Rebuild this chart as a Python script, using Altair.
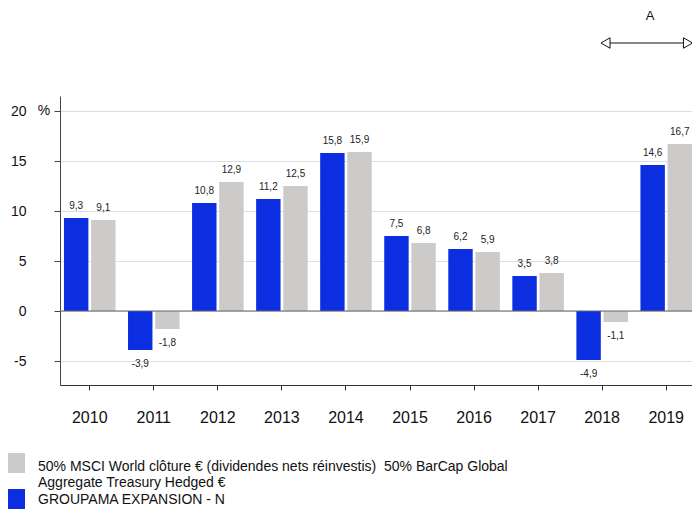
import altair as alt
import pandas as pd

years = ["2010", "2011", "2012", "2013", "2014", "2015", "2016", "2017", "2018", "2019"]
fund_values = [9.3, -3.9, 10.8, 11.2, 15.8, 7.5, 6.2, 3.5, -4.9, 14.6]
bench_values = [9.1, -1.8, 12.9, 12.5, 15.9, 6.8, 5.9, 3.8, -1.1, 16.7]
fund_name = "GROUPAMA EXPANSION - N"
bench_name = "50% MSCI World clôture € (dividendes nets réinvestis)  50% BarCap Global Aggregate Treasury Hedged €"
bench_lines = ["50% MSCI World clôture € (dividendes nets réinvestis)\u00a0 50% BarCap Global",
               "Aggregate Treasury Hedged €"]
y_ticks = [-5, 0, 5, 10, 15, 20]
blue = "#0b2ee0"
grey = "#cdcaca"
FONT = "Liberation Sans, Arial"

rows = []
for yr, f, b in zip(years, fund_values, bench_values):
    rows.append({"year": yr, "series": fund_name, "value": f})
    rows.append({"year": yr, "series": bench_name, "value": b})
df = pd.DataFrame(rows)

xenc = alt.X("year:N", sort=years,
             scale=alt.Scale(paddingInner=0.195, paddingOuter=0.031, align=1),
             axis=alt.Axis(title=None, labelAngle=0, labelFont=FONT, labelFontSize=16,
                           labelColor="#111", labelPadding=19, tickSize=5,
                           tickColor="#333", domainColor="#333", grid=False))
xoff = alt.XOffset("series:N", sort=[fund_name, bench_name],
                   scale=alt.Scale(paddingInner=0.1))
yscale = alt.Scale(domain=[-7.4, 21.5], nice=False, zero=False)
cscale = alt.Scale(domain=[bench_name, fund_name], range=[grey, blue])

base = alt.Chart(df)

bars = base.mark_bar().encode(
    x=xenc,
    xOffset=xoff,
    y=alt.Y("value:Q", scale=yscale,
            axis=alt.Axis(title=None, values=y_ticks, labelFont=FONT, labelFontSize=14,
                          labelColor="#111", labelPadding=28, tickSize=6,
                          labelExpr="'' + datum.value",
                          tickColor="#444", domainColor="#444",
                          grid=True, gridColor="#dddddd")),
    color=alt.Color("series:N", scale=cscale, legend=None),
)

lbl = base.transform_calculate(
    lbl="replace(replace(format(datum.value, '.1f'), '.', ','), '\u2212', '-')")

pos_labels = lbl.transform_filter("datum.value >= 0").mark_text(
    font=FONT, fontSize=10, color="#222", baseline="alphabetic", dy=-9
).encode(x=xenc, xOffset=xoff, y=alt.Y("value:Q", scale=yscale), text="lbl:N")

neg_labels = lbl.transform_filter("datum.value < 0").mark_text(
    font=FONT, fontSize=10, color="#222", baseline="alphabetic", dy=16.5
).encode(x=xenc, xOffset=xoff, y=alt.Y("value:Q", scale=yscale), text="lbl:N")

zero = alt.Chart(pd.DataFrame({"z": [0]})).mark_rule(color="#666", strokeWidth=1).encode(
    y=alt.Y("z:Q", scale=yscale))

pct = alt.Chart(pd.DataFrame({"v": [20]})).mark_text(
    text="%", font=FONT, fontSize=14, color="#111", align="center", baseline="middle"
).encode(x=alt.value(-16), y=alt.Y("v:Q", scale=yscale))

# decorative "A" with double arrow at top right
a_text = alt.Chart(pd.DataFrame({"t": ["A"]})).mark_text(
    font=FONT, fontSize=13, color="#111", align="center", baseline="middle"
).encode(x=alt.value(590), y=alt.value(-80), text="t:N")
arrow_line = alt.Chart(pd.DataFrame({"t": [0]})).mark_rule(color="#111", strokeWidth=1.2).encode(
    x=alt.value(548), x2=alt.value(626), y=alt.value(-53))
arrow_l = alt.Chart(pd.DataFrame({"t": [0]})).mark_point(
    shape="triangle-left", size=110, filled=True, fill="white", stroke="#111", strokeWidth=1, opacity=1
).encode(x=alt.value(545.5), y=alt.value(-53))
arrow_r = alt.Chart(pd.DataFrame({"t": [0]})).mark_point(
    shape="triangle-right", size=110, filled=True, fill="white", stroke="#111", strokeWidth=1, opacity=1
).encode(x=alt.value(628), y=alt.value(-53))

# legend
leg_sq_b = alt.Chart(pd.DataFrame({"s": [bench_name]})).mark_square(size=400, opacity=1).encode(
    x=alt.value(-45), y=alt.value(367),
    color=alt.Color("s:N", scale=cscale, legend=None))
leg_sq_f = alt.Chart(pd.DataFrame({"s": [fund_name]})).mark_square(size=400, opacity=1).encode(
    x=alt.value(-45), y=alt.value(403),
    color=alt.Color("s:N", scale=cscale, legend=None))
leg_t1 = alt.Chart(pd.DataFrame({"t": [bench_lines[0]]})).mark_text(
    font=FONT, fontSize=14, color="#111", align="left", baseline="alphabetic"
).encode(x=alt.value(-22), y=alt.value(375), text="t:N")
leg_t2 = alt.Chart(pd.DataFrame({"t": [bench_lines[1]]})).mark_text(
    font=FONT, fontSize=14, color="#111", align="left", baseline="alphabetic"
).encode(x=alt.value(-22), y=alt.value(391), text="t:N")
leg_t3 = alt.Chart(pd.DataFrame({"t": [fund_name]})).mark_text(
    font=FONT, fontSize=14, color="#111", align="left", baseline="alphabetic"
).encode(x=alt.value(-22), y=alt.value(408), text="t:N")

chart = alt.layer(
    bars, zero, pos_labels, neg_labels, pct, a_text, arrow_line, arrow_l, arrow_r,
    leg_sq_b, leg_sq_f, leg_t1, leg_t2, leg_t3
).resolve_scale(color="independent").properties(
    width=632, height=289,
    autosize=alt.AutoSizeParams(type="none"),
    padding={"left": 52, "top": 88, "right": 0, "bottom": 124},
).configure_view(strokeWidth=0)

chart.save("out.html", embed_options={"renderer": "svg", "actions": False})
